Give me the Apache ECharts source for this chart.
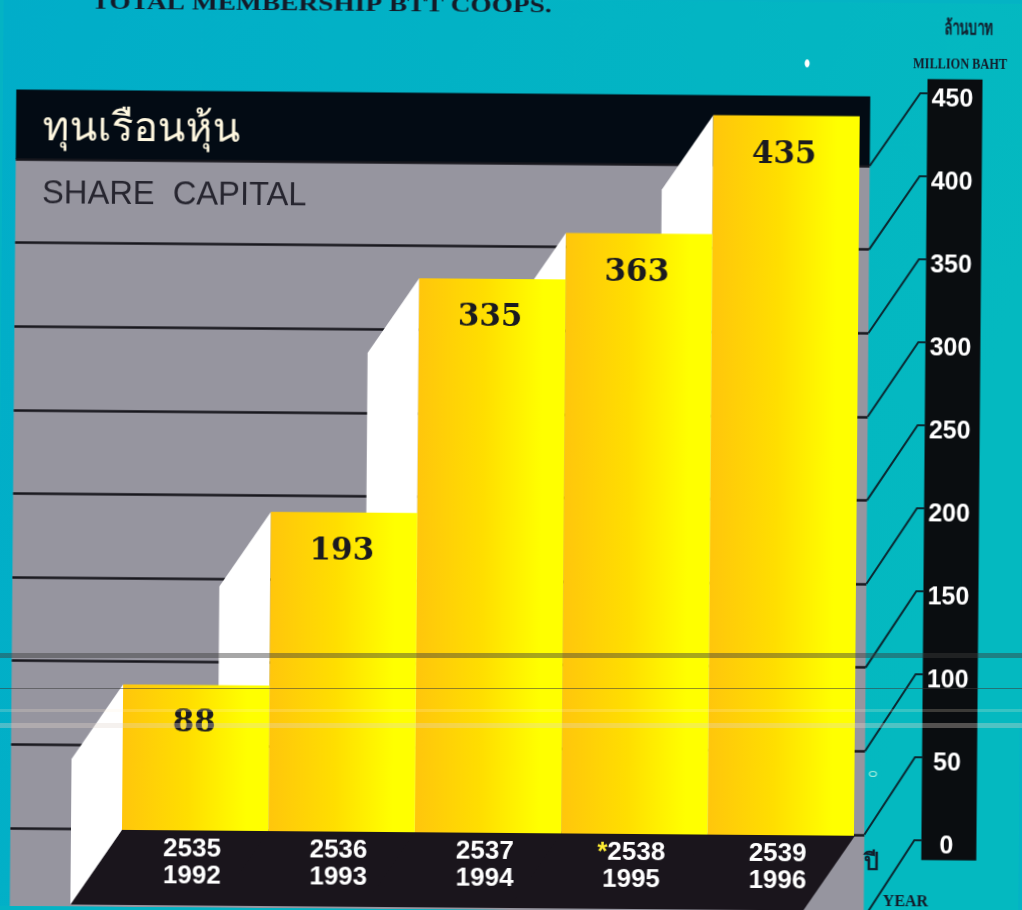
<!DOCTYPE html>
<html>
<head>
<meta charset="utf-8">
<script src="https://cdn.jsdelivr.net/npm/echarts@6/dist/echarts.min.js"></script>
<style>
html,body{margin:0;padding:0;width:1022px;height:910px;overflow:hidden;background:#04b3c4;}
#chart{position:absolute;left:0;top:0;width:1022px;height:910px;transform:rotate(0.46deg);transform-origin:511px 455px;}
.s{position:absolute;left:0;width:1022px;pointer-events:none;}
</style>
</head>
<body>
<div id="chart"></div>
<div class="s" style="top:653px;height:5px;background:rgba(60,60,60,.45)"></div>
<div class="s" style="top:688px;height:1px;background:rgba(60,60,60,.55)"></div>
<div class="s" style="top:709px;height:3px;background:rgba(255,240,215,.2)"></div>
<div class="s" style="top:723px;height:5px;background:rgba(225,215,205,.34)"></div>
<script>
var buddhistYears = ['2535', '2536', '2537', '2538', '2539'];
var gregorianYears = ['1992', '1993', '1994', '1995', '1996'];
var shareCapital = [88, 193, 335, 363, 435];
var scaleTicks = [0, 50, 100, 150, 200, 250, 300, 350, 400, 450];

var chart = echarts.init(document.getElementById('chart'), null, {renderer: 'canvas'});
var DEPTH_X = 51, DEPTH_Y = 75;

function renderBar(params, api) {
  var i = api.value(0), v = api.value(1);
  var top = api.coord([i, v]), base = api.coord([i, 0]);
  var w = api.size([1, 0])[0];
  var L = top[0] - w / 2, R = top[0] + w / 2, T = top[1], B = base[1];
  var order = 10 * (shareCapital.length - i);
  var faceBottom = i === 0 ? B + DEPTH_Y : B;
  return {
    type: 'group',
    children: [
      {type: 'polygon', z2: 1, shape: {points: [[L, B], [R + 1, B], [R + 1 - DEPTH_X, B + DEPTH_Y], [L - DEPTH_X, B + DEPTH_Y]]},
        style: {fill: '#1a151c'}},
      {type: 'polygon', z2: order, shape: {points: [[L, T], [L - DEPTH_X, T + DEPTH_Y], [L - DEPTH_X, faceBottom], [L, B]]},
        style: {fill: '#ffffff'}},
      {type: 'rect', z2: order + 1, shape: {x: L, y: T, width: w, height: B - T},
        style: {fill: new echarts.graphic.LinearGradient(0, 0, 1, 0, [
          {offset: 0, color: '#ffc60c'}, {offset: 0.45, color: '#ffde00'}, {offset: 0.85, color: '#ffff00'}, {offset: 1, color: '#ffff00'}])}},
      {type: 'text', z2: 100, style: {text: String(v), x: top[0] - 2, y: T + 39, align: 'center', verticalAlign: 'middle',
        textAlign: 'center', textVerticalAlign: 'middle', fontFamily: 'DejaVu Serif', fontWeight: 'bold', fontSize: 31,
        fill: '#1a1a20'}}
    ]
  };
}

function renderLeader(params, api) {
  var t = api.value(0);
  var p = api.coord([1, t]);
  var stubY = chart.convertToPixel({yAxisIndex: 2}, t) - 6;
  return {
    type: 'polyline',
    shape: {points: [[p[0], p[1]], [p[0] + 50, stubY], [p[0] + 58, stubY]]},
    style: {stroke: '#0b2730', lineWidth: 2, fill: null}
  };
}

var option = {
  animation: false,
  backgroundColor: new echarts.graphic.LinearGradient(0, 0, 1, 0.3, [
    {offset: 0, color: '#01adc9'}, {offset: 1, color: '#04b9c0'}]),
  grid: [
    {left: 125, width: 732, top: 88.7, height: 744.3},
    {left: 13.4, width: 854, top: 163, height: 668.8},
    {left: 924.5, width: 55, top: 96, height: 747}
  ],
  xAxis: [
    {gridIndex: 0, type: 'category', data: buddhistYears.map(function (b, k) { return k; }), z: 10,
      axisLine: {show: false}, axisTick: {show: false},
      axisLabel: {
        interval: 0, margin: 5, color: '#ffffff', fontFamily: 'Liberation Sans', fontWeight: 'bold', fontSize: 26, lineHeight: 27,
        padding: [0, 6, 0, 0],
        formatter: function (k) {
          k = +k;
          var star = buddhistYears[k] === '2538' ? '{star|*}' : '';
          return star + buddhistYears[k] + '\n' + gregorianYears[k];
        },
        rich: {star: {color: '#ffee33', fontSize: 26, fontWeight: 'bold', fontFamily: 'Liberation Sans', lineHeight: 27}}
      }},
    {gridIndex: 1, type: 'value', min: 0, max: 1, show: false},
    {gridIndex: 2, type: 'value', min: 0, max: 1, show: false}
  ],
  yAxis: [
    {gridIndex: 0, type: 'value', min: 0, max: 450, interval: 50, show: false},
    {gridIndex: 1, type: 'value', min: 50, max: 450, interval: 50, z: 1,
      axisLine: {show: false}, axisTick: {show: false}, axisLabel: {show: false},
      splitLine: {show: true, lineStyle: {color: '#17171d', width: 2.5}}},
    {gridIndex: 2, type: 'value', min: 0, max: 450, interval: 50, z: 10,
      axisLine: {show: false}, axisTick: {show: false}, splitLine: {show: false},
      axisLabel: {inside: true, margin: 25, align: 'center', color: '#ffffff', fontFamily: 'Liberation Sans', fontWeight: 'bold', fontSize: 25}}
  ],
  graphic: [
    {type: 'rect', z: -1, shape: {x: 13.4, y: 163, width: 854, height: 748}, style: {fill: '#96959f'}},
    {type: 'rect', z: -1, shape: {x: 13.4, y: 93.5, width: 854, height: 69.5}, style: {fill: '#030b14'}},
    {type: 'rect', z: -1, shape: {x: 924.5, y: 75.7, width: 55, height: 781}, style: {fill: '#0a0d10'}},
    {type: 'text', z: 20, x: 88, y: 17, style: {text: 'TOTAL MEMBERSHIP BTT COOPS.', fontFamily: 'Liberation Serif', fontWeight: 'bold', fontSize: 22, fill: '#141a28', verticalAlign: 'bottom', align: 'left'}, scaleX: 1.245},
    {type: 'text', z: 20, x: 40, y: 132, style: {text: 'ทุนเรือนหุ้น', fontFamily: 'Noto Sans, DejaVu Sans, sans-serif', fontSize: 40.5, fill: '#fff8e0', verticalAlign: 'middle', align: 'left'}},
    {type: 'text', z: 20, x: 40, y: 198, style: {text: 'SHARE  CAPITAL', fontFamily: 'Liberation Sans', fontSize: 33, fill: '#26252f', verticalAlign: 'middle', align: 'left'}, scaleX: 0.99},
    {type: 'text', z: 20, x: 941, y: 26, style: {text: 'ล้านบาท', fontFamily: 'Liberation Serif, serif', fontSize: 20, fill: '#141a28', stroke: '#141a28', lineWidth: 0.7, verticalAlign: 'middle', align: 'left'}, scaleX: 0.66},
    {type: 'text', z: 20, x: 910, y: 61, style: {text: 'MILLION BAHT', fontFamily: 'Liberation Serif', fontWeight: 'bold', fontSize: 15, fill: '#141a28', verticalAlign: 'middle', align: 'left'}, scaleX: 0.82},
    {type: 'text', z: 20, x: 874, y: 861, style: {text: 'ปี', fontFamily: 'Liberation Serif, serif', fontSize: 24, fill: '#141a28', stroke: '#141a28', lineWidth: 0.7, verticalAlign: 'middle', align: 'center'}},
    {type: 'text', z: 20, x: 909, y: 899, style: {text: 'YEAR', fontFamily: 'Liberation Serif', fontWeight: 'bold', fontSize: 16, fill: '#141a28', verticalAlign: 'middle', align: 'center'}},
    {type: 'ellipse', z: 20, shape: {cx: 804, cy: 61, rx: 2.5, ry: 4}, style: {fill: '#ffffff'}},
    {type: 'ellipse', z: 20, shape: {cx: 875.5, cy: 771, rx: 3.5, ry: 2.5}, style: {fill: null, stroke: '#a6ecdc', lineWidth: 1.2}}
  ],
  series: [
    {type: 'custom', name: 'leaders', xAxisIndex: 1, yAxisIndex: 1, z: 3, renderItem: renderLeader, clip: false,
      data: scaleTicks.map(function (t) { return [t]; })},
    {type: 'custom', name: 'Share capital', xAxisIndex: 0, yAxisIndex: 0, z: 4, renderItem: renderBar, clip: false,
      encode: {x: 0, y: 1},
      data: shareCapital.map(function (v, k) { return [k, v]; })}
  ]
};
chart.setOption(option);
</script>
</body>
</html>
